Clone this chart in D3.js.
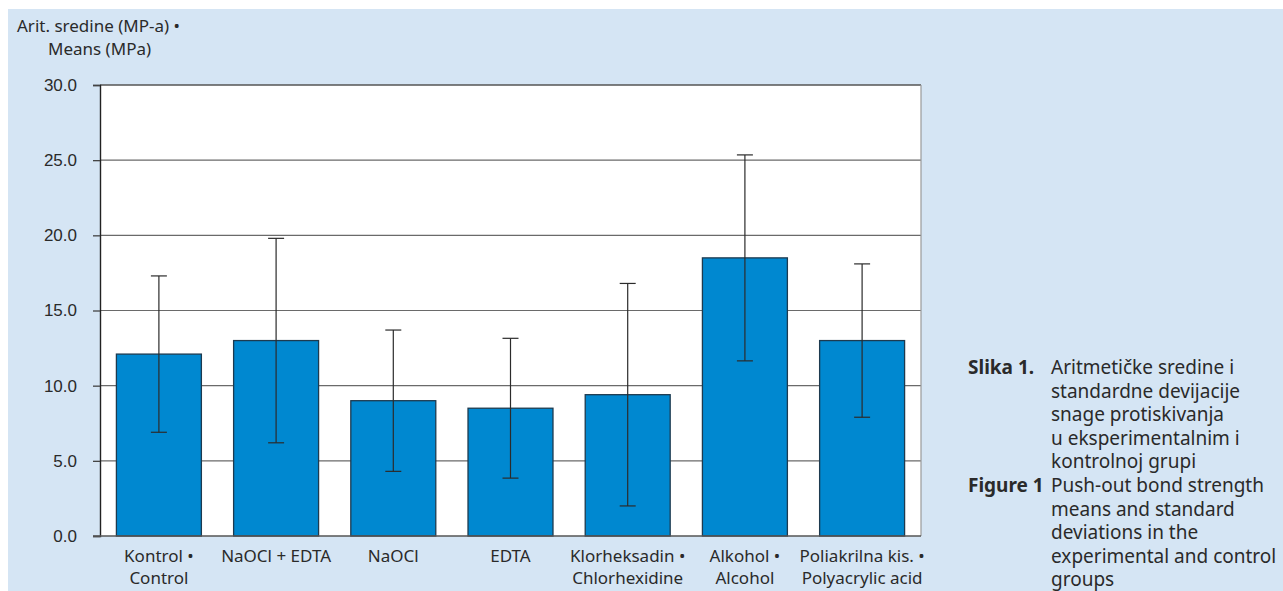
<!DOCTYPE html>
<html>
<head>
<meta charset="utf-8">
<script src="https://cdn.jsdelivr.net/npm/d3@7"></script>
<style>
  body { margin: 0; background: #fff; }
  svg { display: block; font-family: "Noto Sans", "Open Sans", sans-serif; }
</style>
</head>
<body>
<svg id="chart" width="1283" height="591"></svg>
<script>
// =========================
// DADES
// =========================

const groupsHr = ["Kontrol •", "NaOCl + EDTA", "NaOCl", "EDTA", "Klorheksadin •", "Alkohol •", "Poliakrilna kis. •"];
const groupsEn = ["Control", "", "", "", "Chlorhexidine", "Alcohol", "Polyacrylic acid"];
const means = [12.1, 13.0, 9.0, 8.5, 9.4, 18.5, 13.0];
const sds = [5.2, 6.8, 4.7, 4.65, 7.4, 6.85, 5.1];
const yTicks = [0, 5, 10, 15, 20, 25, 30];

const captionHr = ["Aritmetičke sredine i", "standardne devijacije", "snage protiskivanja", "u eksperimentalnim i", "kontrolnoj grupi"];
const captionEn = ["Push-out bond strength", "means and standard", "deviations in the", "experimental and control", "groups"];

// =========================
// ESCALES
// =========================

const svg = d3.select("#chart");
const W = 1283, H = 591;

svg.append("rect")
  .attr("x", 8).attr("y", 9)
  .attr("width", W - 8).attr("height", H - 9)
  .attr("fill", "#d5e5f4");

const plot = { left: 100, right: 921, top: 85, bottom: 536 };

const x = d3.scaleBand()
  .domain(groupsHr)
  .range([plot.left, plot.right])
  .paddingInner(0.275)
  .paddingOuter(0.14);

const y = d3.scaleLinear()
  .domain([0, 30])
  .range([plot.bottom, plot.top]);

// fons blanc
svg.append("rect")
  .attr("x", plot.left).attr("y", plot.top)
  .attr("width", plot.right - plot.left)
  .attr("height", plot.bottom - plot.top)
  .attr("fill", "#fff");

// línies de graella
svg.append("g")
  .selectAll("line")
  .data(yTicks.filter(d => d > 0))
  .enter()
  .append("line")
  .attr("x1", plot.left).attr("x2", plot.right)
  .attr("y1", d => y(d)).attr("y2", d => y(d))
  .attr("stroke", d => d === 30 ? "#555" : "#6a6a6a")
  .attr("stroke-width", d => d === 30 ? 1.6 : 1.2);

// vora dreta
svg.append("line")
  .attr("x1", plot.right).attr("x2", plot.right)
  .attr("y1", plot.top).attr("y2", plot.bottom)
  .attr("stroke", "#999")
  .attr("stroke-width", 1.2);

// =========================
// BARRES
// =========================

const data = groupsHr.map((g, i) => ({ g, mean: means[i], sd: sds[i] }));

svg.append("g")
  .selectAll("rect")
  .data(data)
  .enter()
  .append("rect")
  .attr("x", d => x(d.g))
  .attr("y", d => y(d.mean))
  .attr("width", x.bandwidth())
  .attr("height", d => y(0) - y(d.mean))
  .attr("fill", "#0088d0")
  .attr("stroke", "#1d3a4f")
  .attr("stroke-width", 1.3);

// barres d'error
const capW = 8;
const err = svg.append("g")
  .attr("stroke", "#2b2b2b")
  .attr("stroke-width", 1.2);

data.forEach(d => {
  const cx = x(d.g) + x.bandwidth() / 2;
  const hi = y(d.mean + d.sd), lo = y(d.mean - d.sd);
  err.append("line").attr("x1", cx).attr("x2", cx).attr("y1", hi).attr("y2", lo);
  err.append("line").attr("x1", cx - capW).attr("x2", cx + capW).attr("y1", hi).attr("y2", hi);
  err.append("line").attr("x1", cx - capW).attr("x2", cx + capW).attr("y1", lo).attr("y2", lo);
});

// =========================
// EIXOS
// =========================

const yAxis = svg.append("g")
  .attr("transform", `translate(${plot.left},0)`)
  .call(d3.axisLeft(y).tickValues(yTicks).tickFormat(d3.format(".1f")).tickSize(7).tickPadding(16));

yAxis.select(".domain").attr("stroke", "#222").attr("stroke-width", 1.4);
yAxis.selectAll(".tick line").attr("stroke", "#444").attr("stroke-width", 1.3);
yAxis.selectAll(".tick text")
  .attr("fill", "#2a2a2a")
  .style("font-size", "17px");

// eix x
svg.append("line")
  .attr("x1", plot.left - 7).attr("x2", plot.right)
  .attr("y1", plot.bottom).attr("y2", plot.bottom)
  .attr("stroke", "#555")
  .attr("stroke-width", 1.5);

const xLabels = svg.append("g")
  .style("font-size", "17px")
  .attr("fill", "#2a2a2a")
  .attr("text-anchor", "middle");

groupsHr.forEach((g, i) => {
  const cx = x(g) + x.bandwidth() / 2;
  xLabels.append("text").attr("x", cx).attr("y", 562).text(g);
  if (groupsEn[i]) xLabels.append("text").attr("x", cx).attr("y", 584).text(groupsEn[i]);
});

// títol eix y
svg.append("text")
  .attr("x", 17).attr("y", 32)
  .style("font-size", "17px").attr("fill", "#2a2a2a")
  .text("Arit. sredine (MP-a) •");
svg.append("text")
  .attr("x", 48).attr("y", 55)
  .style("font-size", "17px").attr("fill", "#2a2a2a")
  .text("Means (MPa)");

// =========================
// LLEGENDA / PEU
// =========================

const cap = svg.append("g")
  .style("font-size", "19px")
  .attr("fill", "#2a2a2a");

const lh = 23.6;
const y1 = 374;
cap.append("text").attr("x", 968).attr("y", y1).style("font-weight", "bold").text("Slika 1.");
captionHr.forEach((t, i) => cap.append("text").attr("x", 1051).attr("y", y1 + i * lh).text(t));
const y2 = y1 + captionHr.length * lh;
cap.append("text").attr("x", 968).attr("y", y2).style("font-weight", "bold").text("Figure 1");
captionEn.forEach((t, i) => cap.append("text").attr("x", 1051).attr("y", y2 + i * lh).text(t));
</script>
</body>
</html>
